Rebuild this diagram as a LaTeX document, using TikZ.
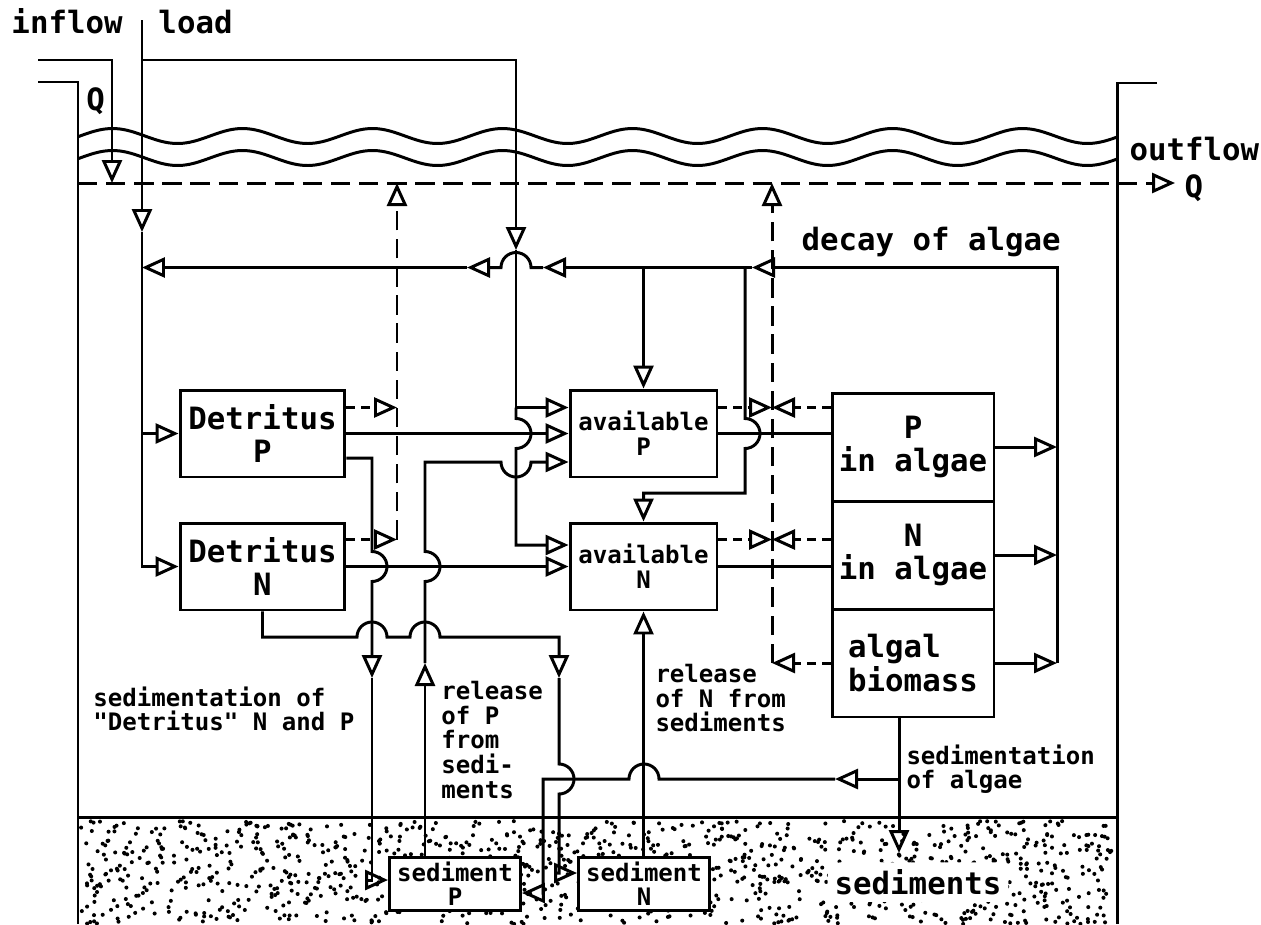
\documentclass[tikz,border=0pt]{standalone}
\usepackage{fontspec}
\newfontfamily\plotter{DejaVu Sans Mono}
\usetikzlibrary{arrows.meta,calc}
\newcommand{\bigtxt}{\fontsize{17.5}{19}\selectfont\plotter\bfseries}
\newcommand{\smalltxt}{\fontsize{13.7}{14}\selectfont\plotter\bfseries}
\newcommand{\hoprad}{0.3cm}
\tikzset{
  >={Triangle[open,length=0.46cm,width=0.4cm]},
  box/.style={draw,fill=white,minimum width=3.3cm,minimum height=1.74cm,
    inner sep=1pt,align=center,font=\bigtxt},
  algbox/.style={box,minimum width=3.24cm,minimum height=2.16cm},
  sedbox/.style={box,minimum width=2.62cm,minimum height=1.06cm,font=\smalltxt},
  dflow/.style={->,dash pattern=on 11pt off 5pt},
  sflow/.style={->,dash pattern=on 5pt off 3.5pt},
  lbl/.style={font=\smalltxt,align=left,anchor=north west,inner sep=0pt},
  tag/.style={font=\bigtxt,anchor=base west,inner sep=0pt},
}
\begin{document}
\begin{tikzpicture}[x=0.02cm,y=-0.02cm,line width=1.7pt]
  \useasboundingbox (0,0) rectangle (1261,924);
  % sediment layer
  \pgfmathsetseed{11}
  \foreach \i in {1,...,1200}{
    \pgfmathsetmacro\dx{81+1033*rnd}
    \pgfmathsetmacro\dy{821+103*rnd}
    \fill (\dx,\dy) circle (1.15pt);
  }
  \draw (78,817) -- (1117,817);
  % tank and water surface
  \draw (38,82) -- (78,82) -- (78,924);
  \draw (1157,83) -- (1117,83) -- (1117,924);
  \foreach \wy in {0,22}
    \draw plot[domain=78:1117,samples=150,smooth] (\x,{136+\wy-7.5*sin((\x-80)/130*360)});
  \draw[dflow] (78,183) -- (1175,183);

  % compartments
  \node[box] (detP) at (262.5,433.5) {Detritus\\P};
  \node[box] (detN) at (262.5,566.5) {Detritus\\N};
  \node[box,minimum width=2.94cm,font=\smalltxt] (avP) at (643.5,433.5) {available\\P};
  \node[box,minimum width=2.94cm,font=\smalltxt] (avN) at (643.5,566.5) {available\\N};
  \node[algbox] (algP) at (913,447) {P\\in algae};
  \node[algbox] (algN) at (913,555) {N\\in algae};
  \node[algbox,align=left] (algB) at (913,663) {algal\\biomass};
  \node[sedbox] (sedP) at (455,883.5) {sediment\\P};
  \node[sedbox] (sedN) at (644,883.5) {sediment\\N};
  \node[font=\bigtxt,fill=white,rounded corners=8pt,inner sep=4pt] (sedi) at (918,882) {sediments};

  % texts
  \node[tag] (tin) at (10,33) {inflow};
  \node[tag] (tload) at (157,33) {load};
  \node[tag] (tqin) at (85,110) {Q};
  \node[tag] (tout) at (1128,160) {outflow};
  \node[tag] (tqout) at (1183,197) {Q};
  \node[tag] (tdecay) at (800,250) {decay of algae};
  \node[lbl] (tsdet) at (92,685) {sedimentation of\\"Detritus" N and P};
  \node[lbl] (trelP) at (440,680) {release\\of P\\from\\sedi-\\ments};
  \node[lbl] (trelN) at (654,663) {release\\of N from\\sediments};
  \node[lbl] (tsalg) at (905,743) {sedimentation\\of algae};

  % inflow and load
  \draw[->] (38,60) -- (112,60) -- (112,183);
  \draw[->] (142,20) -- (142,232);
  \draw[->] (142,433.5) -- (detP.west);
  \draw[->] (142,232) -- (142,566.5) -- (detN.west);
  \draw[->] (142,60) -- (516,60) -- (516,250);
  \draw[->] (516,250) -- (516,407.5) -- (avP.west |- 0,407.5);
  \draw[->] (516,407.5) -- (516,418.5) arc[start angle=90,end angle=-90,radius=\hoprad]
    -- (516,545) -- (avN.west |- 0,545);

  % decay of algae
  \draw[->] (algP.east) -- (1057,447);
  \draw[->] (algN.east) -- (1057,555);
  \draw[->] (algB.east) -- (1057,663);
  \draw[->] (1057,663) -- (1057,267.5) -- (752,267.5);
  \draw[->] (752,267.5) -- (543,267.5);
  \draw[->] (543,267.5) -- (531,267.5) arc[start angle=0,end angle=180,radius=\hoprad] -- (467,267.5);
  \draw[->] (467,267.5) -- (142,267.5);
  \draw[->] (avP.north |- 0,267.5) -- (avP.north);
  \draw[->] (745,267.5) -- (745,418.5) arc[start angle=90,end angle=-90,radius=\hoprad]
    -- (745,493) -- (avN.north |- 0,493) -- (avN.north);

  % detritus
  \draw[->] (detP.east) -- (avP.west);
  \draw[sflow] ($(detP.east)+(0,-26)$) -- (397,407.5);
  \draw[->] ($(detP.east)+(0,24.5)$) -- (372,458) -- (372,551.5)
    arc[start angle=90,end angle=-90,radius=\hoprad] -- (372,678);
  \draw[->] (372,678) -- (372,880) -- ($(sedP.west)+(0,-3.5)$);
  \draw[->] (detN.east) -- (avN.west);
  \draw[sflow] ($(detN.east)+(0,-27)$) -- (397,539.5);
  \draw[->] (detN.south) -- (262.5,637) -- (357,637) arc[start angle=180,end angle=0,radius=\hoprad]
    -- (410,637) arc[start angle=180,end angle=0,radius=\hoprad] -- (559,637) -- (559,678);
  \draw[->] (559,678) -- (559,764) arc[start angle=90,end angle=-90,radius=\hoprad]
    -- (559,873) -- ($(sedN.west)+(0,-10.5)$);
  \draw[dflow] (397,539.5) -- (397,183);

  % release from sediments
  \draw[->] ($(sedP.north)+(-30,0)$) -- (425,663);
  \draw[->] (425,663) -- (425,581.5) arc[start angle=-90,end angle=90,radius=\hoprad]
    -- (425,462) -- (501,462) arc[start angle=180,end angle=360,radius=\hoprad]
    -- ($(avP.west)+(0,28.5)$);
  \draw[->] (avN.south |- sedN.north) -- (avN.south);

  % uptake by algae
  \draw (avP.east) -- (algP.west |- avP.east);
  \draw (avN.east) -- (algN.west |- avN.east);
  \draw[sflow] ($(avP.east)+(0,-26)$) -- (772,407.5);
  \draw[sflow] (algP.west |- 0,407.5) -- (772,407.5);
  \draw[sflow] ($(avN.east)+(0,-27)$) -- (772,539.5);
  \draw[sflow] (algN.west |- 0,539.5) -- (772,539.5);
  \draw[sflow] (algB.west) -- (772,663);
  \draw[dflow] (772,663) -- (772,183);

  % sedimentation of algae
  \draw[->] ($(algB.south)+(-14,0)$) -- (899,853);
  \draw[->] (899,779) -- (835,779);
  \draw[->] (835,779) -- (659,779) arc[start angle=0,end angle=180,radius=\hoprad]
    -- (543,779) -- (543,893) -- ($(sedP.east)+(0,9.5)$);
\end{tikzpicture}
\end{document}
